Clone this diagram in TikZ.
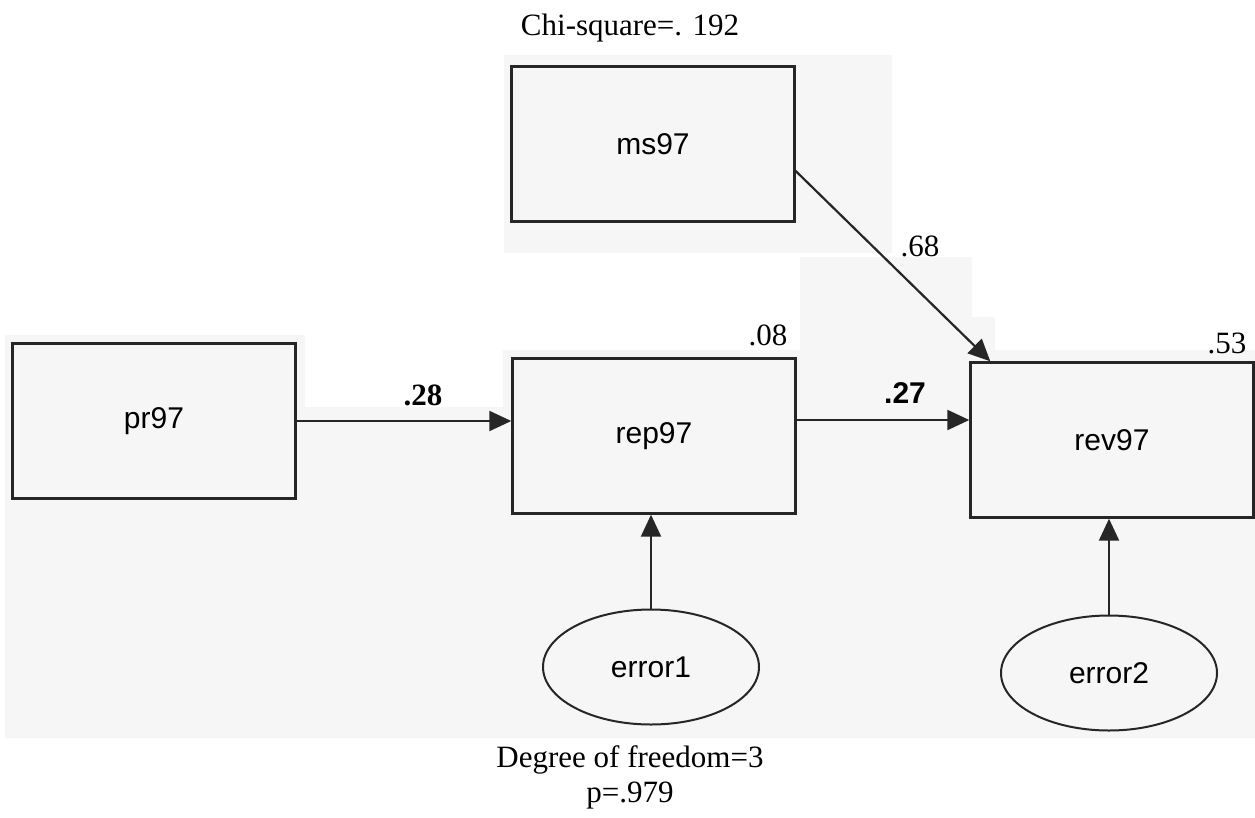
\documentclass[tikz,border=0pt]{standalone}
\usepackage{fontspec}
\setmainfont{Liberation Serif}
\setsansfont{Liberation Sans}
\usepackage{tikz}
\usetikzlibrary{arrows.meta,shapes.geometric,calc}
\definecolor{scangray}{HTML}{F6F6F6}

\begin{document}
\begin{tikzpicture}[x=1pt,y=-1pt,
  var/.style={draw=black!85,line width=2.4pt,minimum width=283pt,minimum height=155pt,inner sep=0pt,font=\sffamily\fontsize{30}{34}\selectfont},
  err/.style={draw=black!85,ellipse,line width=2pt,minimum width=216pt,minimum height=115pt,inner sep=0pt,font=\sffamily\fontsize{30}{34}\selectfont},
  causal/.style={draw=black!85,line width=2.2pt,-{Triangle[length=22pt,width=20pt]}},
  coef/.style={anchor=base,inner sep=0pt,font=\fontsize{31}{35}\selectfont}]
\useasboundingbox (0,0) rectangle (1255,817);
% scanned backgrounds
\fill[scangray] (504,55) rectangle (892,253) (800,257) rectangle (972,407)
  (972,317) rectangle (995,407) (503,350) rectangle (800,407)
  (995,350) rectangle (1255,407) (5,335) rectangle (305,407)
  (5,407) rectangle (1255,738);
\node[var] (ms97) at (653,144) {ms97};
\node[var] (pr97) at (154,421) {pr97};
\node[var] (rep97) at (654,436) {rep97};
\node[var] (rev97) at (1112,440) {rev97};
\node[err] (error1) at (651,667) {error1};
\node[err] (error2) at (1109,673) {error2};
\draw[causal] (pr97.east) -- (pr97.east -| rep97.west);
\draw[causal] ([yshift=16pt]rep97.east) -- ([yshift=16pt]rep97.east -| rev97.west);
\draw[causal] ([yshift=-27pt]ms97.east) -- ([xshift=21pt]rev97.north west);
\draw[causal] (error1.north) -- (error1.north |- rep97.south);
\draw[causal] (error2.north) -- (error2.north |- rev97.south);
% coefficients and fit
\node[coef] (chisq) at (630,35) {Chi-square=. 192};
\node[coef] (r2rep) at (768,345) {.08};
\node[coef] (r2rev) at (1227,353) {.53};
\node[coef] (bms) at (920,256) {.68};
\node[coef,font=\bfseries\fontsize{31}{35}\selectfont] (bpr) at (423,405) {.28};
\node[coef,font=\sffamily\bfseries\fontsize{30}{34}\selectfont] (brep) at (905,403) {.27};
\node[coef] (df) at (630,767) {Degree of freedom=3};
\node[coef] (pval) at (630,802) {p=.979};
\end{tikzpicture}
\end{document}
